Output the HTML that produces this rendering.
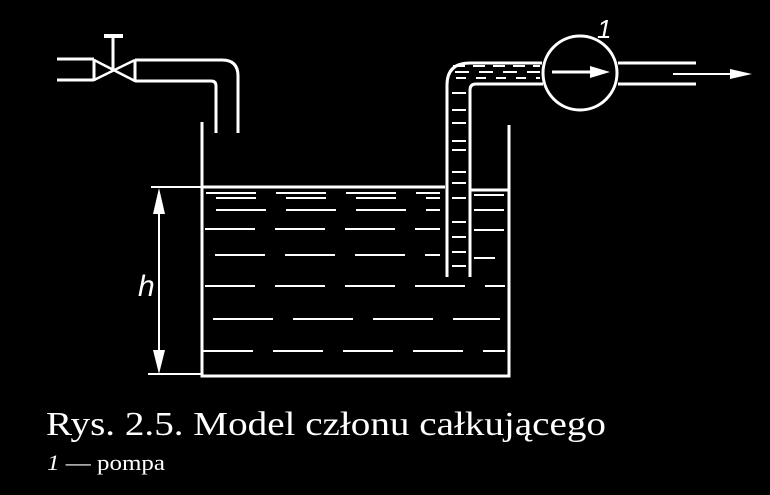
<!DOCTYPE html>
<html><head><style>body{margin:0;background:#000;}svg{display:block}</style></head>
<body>
<svg width="770" height="495" viewBox="0 0 770 495" xmlns="http://www.w3.org/2000/svg">
<rect width="770" height="495" fill="#000"/>
<g stroke="#fff" fill="none" stroke-width="3">
<line x1="57" y1="59" x2="94" y2="59"/>
<line x1="57" y1="80" x2="94" y2="80"/>
<line x1="94" y1="59" x2="94" y2="81"/>
<line x1="135" y1="60" x2="135" y2="82"/>
<path d="M94 60 L135 81 M94 80 L135 60" stroke-width="2.5"/>
<line x1="113" y1="70" x2="113" y2="36"/>
<line x1="104" y1="36" x2="123" y2="36" stroke-width="4"/>
<path d="M135 60 L222 60 Q238 60 238 76 L238 133"/>
<path d="M135 81 L211 81 Q216 81 216 86 L216 133"/>
<path d="M202 122 L202 376 L509 376 L509 125"/>
<line x1="202" y1="187" x2="445" y2="187"/>
<line x1="470" y1="190" x2="508" y2="190"/>
<line x1="151" y1="187" x2="202" y2="187" stroke-width="2"/>
<line x1="148" y1="374" x2="202" y2="374" stroke-width="2"/>
<line x1="159" y1="200" x2="159" y2="360" stroke-width="2"/>
<path d="M447 277 L447 85 Q447 63 470 63 L542 63"/>
<path d="M470 277 L470 90 Q470 84 476 84 L543 84"/>
<circle cx="580" cy="73" r="37"/>
<line x1="552" y1="72" x2="592" y2="72"/>
<line x1="618" y1="63" x2="696" y2="63"/>
<line x1="618" y1="84" x2="696" y2="84"/>
<line x1="673" y1="74" x2="735" y2="74" stroke-width="2"/>
</g>
<g fill="#fff">
<polygon points="159,188 153,214 165,214"/>
<polygon points="159,374 153,350 165,350"/>
<polygon points="590,66 610,72 590,78"/>
<polygon points="730,69 752,74 730,79"/>
</g>
<g stroke="#fff" stroke-width="2" stroke-dasharray="50,20">
<line x1="206" y1="193" x2="440" y2="193"/>
<line x1="216" y1="198" x2="440" y2="198" stroke-dasharray="40,30"/>
<line x1="216" y1="210" x2="440" y2="210"/>
<line x1="205" y1="229" x2="440" y2="229"/>
<line x1="215" y1="255" x2="440" y2="255"/>
<line x1="205" y1="286" x2="505" y2="286"/>
<line x1="213" y1="319" x2="500" y2="319" stroke-dasharray="60,20"/>
<line x1="203" y1="351" x2="505" y2="351"/>
<line x1="474" y1="195" x2="505" y2="195" stroke-dasharray="30,5"/>
<line x1="474" y1="210" x2="505" y2="210" stroke-dasharray="30,5"/>
<line x1="474" y1="230" x2="505" y2="230" stroke-dasharray="30,5"/>
<line x1="474" y1="258" x2="495" y2="258" stroke-dasharray="30,5"/>
</g>
<g stroke="#fff" stroke-width="2">
<line x1="453" y1="66" x2="540" y2="66" stroke-dasharray="12,8"/>
<line x1="455" y1="72" x2="540" y2="72" stroke-dasharray="14,10"/>
<line x1="456" y1="78" x2="540" y2="78" stroke-dasharray="10,10"/>
<line x1="452" y1="93" x2="466" y2="93"/><line x1="452" y1="110" x2="466" y2="110"/>
<line x1="452" y1="123" x2="466" y2="123"/><line x1="452" y1="141" x2="466" y2="141"/>
<line x1="452" y1="150" x2="466" y2="150"/><line x1="452" y1="172" x2="466" y2="172"/>
<line x1="452" y1="183" x2="466" y2="183"/><line x1="452" y1="198" x2="466" y2="198"/>
<line x1="452" y1="222" x2="466" y2="222"/><line x1="452" y1="237" x2="466" y2="237"/>
<line x1="452" y1="252" x2="466" y2="252"/><line x1="452" y1="266" x2="466" y2="266"/>
</g>
<g fill="#fff" font-family="'Liberation Serif', serif">
<text x="138" y="296" font-family="'Liberation Sans', sans-serif" font-style="italic" font-size="30">h</text>
<text x="597" y="38" font-family="'Liberation Sans', sans-serif" font-style="italic" font-size="26">1</text>
<text x="46" y="435" font-size="34" textLength="560" lengthAdjust="spacingAndGlyphs">Rys.  2.5.  Model członu całkującego</text>
<text x="47" y="470" font-size="22" textLength="118" lengthAdjust="spacingAndGlyphs"><tspan font-style="italic">1</tspan> — pompa</text>
</g>
</svg>
</body></html>
